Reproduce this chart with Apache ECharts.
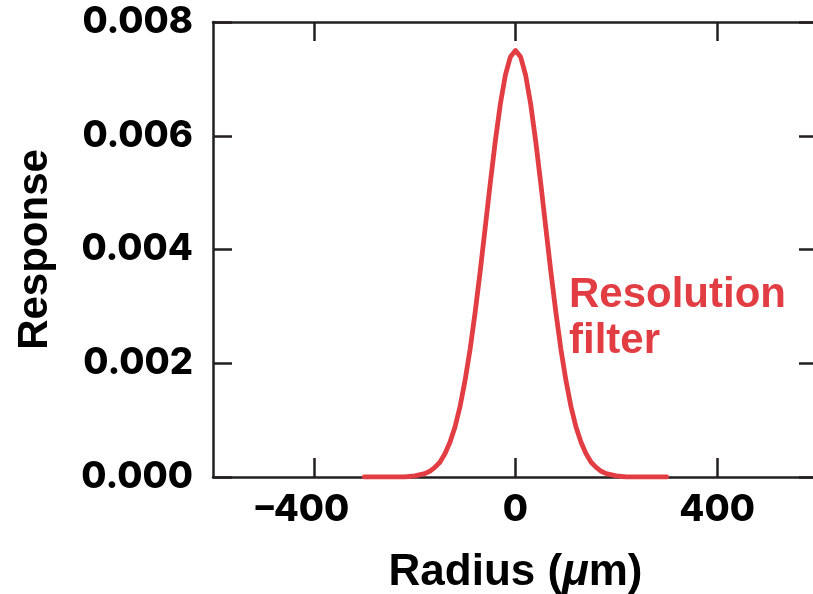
<!DOCTYPE html>
<html>
<head>
<meta charset="utf-8">
<script src="https://cdn.jsdelivr.net/npm/echarts@6/dist/echarts.min.js"></script>
<style>
html,body{margin:0;padding:0;background:#fff;}
#chart{width:813px;height:594px;}
</style>
</head>
<body>
<div id="chart"></div>
<script>
// Data
var radius = [-300,-280,-260,-240,-220,-200,-180,-170,-160,-150,-140,-130,-120,-110,-100,-90,-80,-70,-60,-50,-40,-30,-20,-10,0,10,20,30,40,50,60,70,80,90,100,110,120,130,140,150,160,170,180,200,220,240,260,280,300];
var response = [0,0,0,0,0,0.00002,0.00006,0.00010,0.00017,0.00026,0.00041,0.00061,0.00088,0.00124,0.00170,0.00225,0.00290,0.00362,0.00439,0.00517,0.00591,0.00656,0.00707,0.00739,0.00750,0.00739,0.00707,0.00656,0.00591,0.00517,0.00439,0.00362,0.00290,0.00225,0.00170,0.00124,0.00088,0.00061,0.00041,0.00026,0.00017,0.00010,0.00006,0.00002,0,0,0,0,0];
var xTicks = [-400,0,400];
var yTicks = [0,0.002,0.004,0.006,0.008];
var seriesName = 'Resolution filter';
var xTitle = 'Radius ({mu|μ}m)';
var yTitle = 'Response';

var FONT = '"Liberation Sans", Arial, Helvetica, sans-serif';
var TICKFONT = 'Inter, "Liberation Sans", Arial, sans-serif';
var RED = '#e23d43';
var AX = '#231f20';

var chart = echarts.init(document.getElementById('chart'), null, {renderer:'canvas'});
var lineStyle = {color: AX, width: 2.5};

function xAxisBase(pos, labels){
  return {
    type: 'value', position: pos, min: -600, max: 600, interval: 200,
    axisLine: {show: true, onZero: false, lineStyle: lineStyle},
    axisTick: {show: true, inside: true, length: 19, customValues: xTicks, lineStyle: {color: AX, width: 2.5}},
    splitLine: {show: false},
    axisLabel: labels ? {
      show: true, margin: 15, color: '#000', fontFamily: TICKFONT, fontWeight: 800, fontSize: 36.5,
      customValues: xTicks,
      formatter: function(v){ if (v < 0) return '–' + Math.abs(v) + '{sp|\u00a0}'; return String(v); },
      rich: {sp: {width: 23, fontSize: 36.5}}
    } : {show: false}
  };
}
function yAxisBase(pos, labels){
  return {
    type: 'value', position: pos, min: 0, max: 0.008, interval: 0.002,
    axisLine: {show: true, onZero: false, lineStyle: lineStyle},
    axisTick: {show: true, inside: true, length: 19, customValues: yTicks, lineStyle: {color: AX, width: 2.5}},
    splitLine: {show: false},
    axisLabel: labels ? {
      show: true, margin: 20, color: '#000', fontFamily: TICKFONT, fontWeight: 800, fontSize: 36.5,
      customValues: yTicks,
      formatter: function(v){ return v.toFixed(3); }
    } : {show: false}
  };
}

var xb = xAxisBase('bottom', true);
xb.name = xTitle;
xb.nameLocation = 'middle';
xb.nameGap = 74;
xb.nameTextStyle = {color: '#000', fontFamily: FONT, fontWeight: 'bold', fontSize: 44,
  rich: {mu: {fontStyle: 'italic', fontWeight: 'bold', fontFamily: FONT, fontSize: 44, color: '#000'}}};
var xt = xAxisBase('top', false);

var yl = yAxisBase('left', true);
yl.name = yTitle;
yl.nameLocation = 'middle';
yl.nameRotate = 90;
yl.nameGap = 157;
yl.nameTextStyle = {color: '#000', fontFamily: FONT, fontWeight: 'bold', fontSize: 42};
var yr = yAxisBase('right', false);

var option = {
  animation: false,
  backgroundColor: '#fff',
  grid: {left: 213, width: 605, top: 22, height: 455, containLabel: false, outerBoundsMode: 'none'},
  xAxis: [xb, xt],
  yAxis: [yl, yr],
  series: [{
    name: seriesName,
    type: 'line',
    xAxisIndex: 0, yAxisIndex: 0,
    data: radius.map(function(r, i){ return [r, response[i]]; }),
    showSymbol: false,
    smooth: false,
    lineStyle: {color: RED, width: 4.8, cap: 'round', join: 'round'},
    z: 3
  }],
  graphic: [{
    type: 'text', left: 569, top: 272, z: 10,
    style: {text: 'Resolution\nfilter', fill: RED, font: 'bold 42px ' + FONT, lineHeight: 46}
  }]
};
chart.setOption(option);
</script>
</body>
</html>
